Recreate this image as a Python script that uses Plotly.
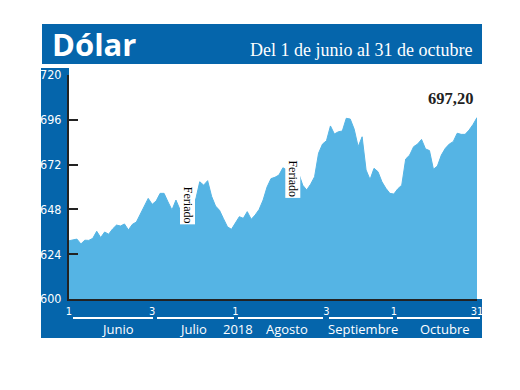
import plotly.graph_objects as go

# ---- data (daily dollar rate, trading-day index from 1 Jun to 31 Oct 2018) ----
values = [631.2, 631.8, 632.1, 629.5, 631.5, 631.4, 632.5, 636.3, 632.9, 635.9,
          634.7, 637.5, 639.6, 639.1, 640.2, 637.0, 640.0, 641.2, 645.5, 650.0,
          653.9, 650.7, 652.5, 656.6, 656.6, 652.0, 647.7, 653.0, 648.0, 650.9,
          653.4, 653.4, 653.4, 662.8, 661.0, 663.4, 655.0, 649.8, 647.5, 643.0,
          638.7, 637.3, 640.5, 644.1, 643.2, 646.8, 642.7, 645.0, 648.0, 653.0,
          660.0, 664.5, 665.2, 666.4, 670.3, 669.1, 664.5, 662.5, 667.3, 661.0,
          658.4, 661.5, 665.5, 678.1, 683.0, 684.8, 692.7, 688.4, 689.6, 690.0,
          696.8, 696.4, 691.0, 681.6, 686.9, 669.1, 664.0, 670.0, 668.2, 662.8,
          659.3, 656.6, 656.2, 659.0, 661.0, 675.0, 677.1, 681.6, 683.0, 685.5,
          680.4, 679.5, 669.5, 671.2, 677.1, 680.7, 683.0, 684.3, 688.8, 688.2,
          688.2, 690.5, 693.5, 697.2]
x_index = list(range(len(values)))

x_tick_pos = [0, 21, 42, 65, 82, 103]
x_tick_text = ["1", "3", "1", "3", "1", "31"]
y_ticks = [600, 624, 648, 672, 696, 720]

months = ["Junio", "Julio", "2018", "Agosto", "Septiembre", "Octubre"]
holiday_label = "Feriado"
holiday_pos = [30, 56.6]
holiday_y = [650.0, 664.5]
last_label = "697,20"
title = "Dólar"
subtitle = "Del 1 de junio al 31 de octubre"

DARK = "#0565ab"
LIGHT = "#55b4e4"

OFF = 8                      # page body margin
W, H = 504, 374
L, R, T, B = 69, 477, 75, 299  # plot area in page pixels


def px(x):
    return (x - L) / (R - L)


def py(y):
    return (B - y) / (B - T)


fig = go.Figure()
fig.add_trace(go.Scatter(
    x=x_index, y=values, mode="lines",
    line=dict(color=LIGHT, width=1),
    fill="tozeroy", fillcolor=LIGHT, hoverinfo="skip", showlegend=False))

shapes = [
    dict(type="rect", xref="paper", yref="paper", x0=px(42), x1=px(482), y0=py(64), y1=py(24),
         fillcolor=DARK, line=dict(width=0), layer="below"),
    dict(type="rect", xref="paper", yref="paper", x0=px(41), x1=px(69), y0=py(338), y1=py(68),
         fillcolor=DARK, line=dict(width=0), layer="below"),
    dict(type="rect", xref="paper", yref="paper", x0=px(41), x1=px(482), y0=py(338), y1=py(299),
         fillcolor=DARK, line=dict(width=0), layer="below"),
]
for a, b in [(73, 153), (157, 234), (238, 323), (329, 393), (397, 480)]:
    shapes.append(dict(type="line", xref="paper", yref="paper", x0=px(a), x1=px(b),
                       y0=py(318), y1=py(318), line=dict(color="white", width=2)))

annotations = []
for m, cx in zip(months, [117, 193, 238, 287, 363, 445]):
    annotations.append(dict(text=m, xref="paper", yref="paper", x=px(cx), y=py(329),
                            showarrow=False, xanchor="center", yanchor="middle",
                            font=dict(family="Open Sans", size=13, color="white")))
for hx, hy in zip(holiday_pos, holiday_y):
    annotations.append(dict(text=holiday_label, x=hx, y=hy, xref="x", yref="y",
                            showarrow=False, textangle=90, bgcolor="white",
                            borderpad=0,
                            font=dict(family="Liberation Serif", size=12, color="black")))
annotations.append(dict(text="<b>" + last_label + "</b>", xref="paper", yref="paper",
                        x=px(475), y=py(99), xanchor="right", yanchor="middle",
                        showarrow=False,
                        font=dict(family="Liberation Serif", size=16.5, color="#222222")))
annotations.append(dict(text="<b>" + title + "</b>", xref="paper", yref="paper",
                        x=px(50), y=py(44), xanchor="left", yanchor="middle",
                        showarrow=False,
                        font=dict(family="Open Sans", size=31, color="white")))
annotations.append(dict(text=subtitle, xref="paper", yref="paper",
                        x=px(474), y=py(50), xanchor="right", yanchor="middle",
                        showarrow=False,
                        font=dict(family="Liberation Serif", size=18, color="white")))

fig.update_layout(
    width=W, height=H,
    margin=dict(l=L - OFF, r=W - (R - OFF), t=T - OFF, b=H - (B - OFF), pad=0),
    paper_bgcolor="white", plot_bgcolor="white",
    shapes=shapes, annotations=annotations,
    xaxis=dict(range=[0, 103], tickvals=x_tick_pos, ticktext=x_tick_text,
               showgrid=False, zeroline=False, showline=True, linecolor="#222222",
               linewidth=2, ticks="", ticklabelstandoff=1,
               tickfont=dict(family="DejaVu Sans Condensed", size=11,
                             color="white")),
    yaxis=dict(range=[600, 720], tickvals=y_ticks, showgrid=False, zeroline=False,
               showline=True, linecolor="#222222", linewidth=2,
               ticks="inside", ticklen=9, tickwidth=2, tickcolor="#222222",
               ticklabelstandoff=3,
               tickfont=dict(family="DejaVu Sans Condensed", size=12.5,
                             color="white")),
)

fig.write_html("out.html")
